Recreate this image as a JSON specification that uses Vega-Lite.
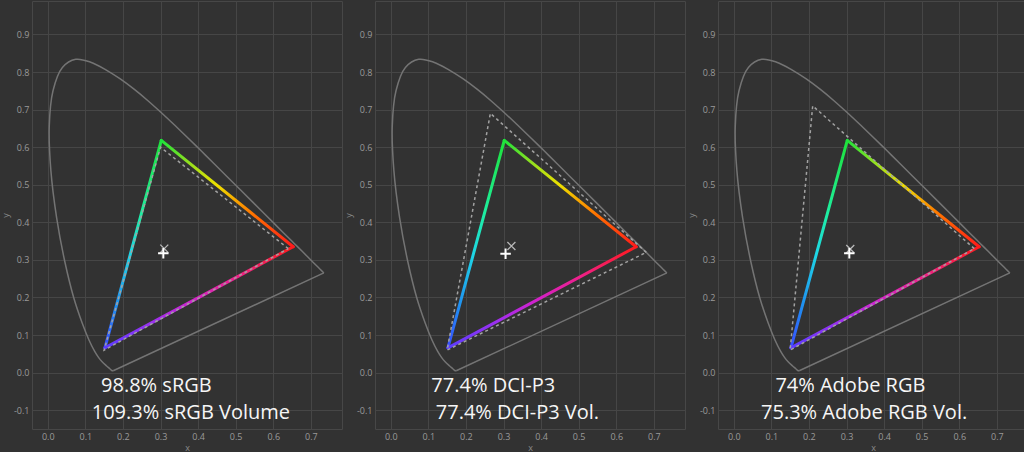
{
  "$schema": "https://vega.github.io/schema/vega-lite/v6.json",
  "padding": 0,
  "background": "#323232",
  "spacing": 0,
  "datasets": {
    "locus": [
      {"i": 0, "nm": 380, "x": 0.1741, "y": 0.0050},
      {"i": 1, "nm": 410, "x": 0.1727, "y": 0.0048},
      {"i": 2, "nm": 420, "x": 0.1714, "y": 0.0051},
      {"i": 3, "nm": 430, "x": 0.1689, "y": 0.0069},
      {"i": 4, "nm": 440, "x": 0.1644, "y": 0.0109},
      {"i": 5, "nm": 450, "x": 0.1566, "y": 0.0177},
      {"i": 6, "nm": 460, "x": 0.1440, "y": 0.0297},
      {"i": 7, "nm": 465, "x": 0.1355, "y": 0.0399},
      {"i": 8, "nm": 470, "x": 0.1241, "y": 0.0578},
      {"i": 9, "nm": 475, "x": 0.1096, "y": 0.0868},
      {"i": 10, "nm": 480, "x": 0.0913, "y": 0.1327},
      {"i": 11, "nm": 485, "x": 0.0687, "y": 0.2007},
      {"i": 12, "nm": 490, "x": 0.0454, "y": 0.2950},
      {"i": 13, "nm": 495, "x": 0.0235, "y": 0.4127},
      {"i": 14, "nm": 500, "x": 0.0082, "y": 0.5384},
      {"i": 15, "nm": 505, "x": 0.0039, "y": 0.6548},
      {"i": 16, "nm": 510, "x": 0.0139, "y": 0.7502},
      {"i": 17, "nm": 515, "x": 0.0389, "y": 0.8120},
      {"i": 18, "nm": 520, "x": 0.0743, "y": 0.8338},
      {"i": 19, "nm": 525, "x": 0.1142, "y": 0.8262},
      {"i": 20, "nm": 530, "x": 0.1547, "y": 0.8059},
      {"i": 21, "nm": 535, "x": 0.1929, "y": 0.7816},
      {"i": 22, "nm": 540, "x": 0.2296, "y": 0.7543},
      {"i": 23, "nm": 545, "x": 0.2658, "y": 0.7243},
      {"i": 24, "nm": 550, "x": 0.3016, "y": 0.6923},
      {"i": 25, "nm": 555, "x": 0.3373, "y": 0.6589},
      {"i": 26, "nm": 560, "x": 0.3731, "y": 0.6245},
      {"i": 27, "nm": 565, "x": 0.4087, "y": 0.5896},
      {"i": 28, "nm": 570, "x": 0.4441, "y": 0.5547},
      {"i": 29, "nm": 575, "x": 0.4788, "y": 0.5202},
      {"i": 30, "nm": 580, "x": 0.5125, "y": 0.4866},
      {"i": 31, "nm": 585, "x": 0.5448, "y": 0.4544},
      {"i": 32, "nm": 590, "x": 0.5752, "y": 0.4242},
      {"i": 33, "nm": 595, "x": 0.6029, "y": 0.3965},
      {"i": 34, "nm": 600, "x": 0.6270, "y": 0.3725},
      {"i": 35, "nm": 605, "x": 0.6482, "y": 0.3514},
      {"i": 36, "nm": 610, "x": 0.6658, "y": 0.3340},
      {"i": 37, "nm": 620, "x": 0.6915, "y": 0.3083},
      {"i": 38, "nm": 630, "x": 0.7079, "y": 0.2920},
      {"i": 39, "nm": 640, "x": 0.7190, "y": 0.2809},
      {"i": 40, "nm": 650, "x": 0.7260, "y": 0.2740},
      {"i": 41, "nm": 660, "x": 0.7300, "y": 0.2700},
      {"i": 42, "nm": 680, "x": 0.7334, "y": 0.2666},
      {"i": 43, "nm": 700, "x": 0.7347, "y": 0.2653}
    ],
    "purple": [
      {"x": 0.7347, "y": 0.2653, "x2": 0.1741, "y2": 0.0050}
    ],
    "gamut": [
      {"edge": "RG", "x": 0.653, "y": 0.335, "x2": 0.302, "y2": 0.618},
      {"edge": "GB", "x": 0.302, "y": 0.618, "x2": 0.152, "y2": 0.066},
      {"edge": "BR", "x": 0.152, "y": 0.066, "x2": 0.653, "y2": 0.335}
    ],
    "reference": [
      {"panel": "sRGB", "i": 0, "x": 0.64, "y": 0.33},
      {"panel": "sRGB", "i": 1, "x": 0.30, "y": 0.60},
      {"panel": "sRGB", "i": 2, "x": 0.15, "y": 0.06},
      {"panel": "sRGB", "i": 3, "x": 0.64, "y": 0.33},
      {"panel": "P3", "i": 0, "x": 0.68, "y": 0.32},
      {"panel": "P3", "i": 1, "x": 0.265, "y": 0.69},
      {"panel": "P3", "i": 2, "x": 0.15, "y": 0.06},
      {"panel": "P3", "i": 3, "x": 0.68, "y": 0.32},
      {"panel": "Adobe", "i": 0, "x": 0.64, "y": 0.33},
      {"panel": "Adobe", "i": 1, "x": 0.21, "y": 0.71},
      {"panel": "Adobe", "i": 2, "x": 0.15, "y": 0.06},
      {"panel": "Adobe", "i": 3, "x": 0.64, "y": 0.33}
    ],
    "whites": [
      {"panel": "sRGB", "kind": "target", "x": 0.310, "y": 0.330},
      {"panel": "sRGB", "kind": "measured", "x": 0.3075, "y": 0.3175},
      {"panel": "P3", "kind": "target", "x": 0.321, "y": 0.337},
      {"panel": "P3", "kind": "measured", "x": 0.3055, "y": 0.3165},
      {"panel": "Adobe", "kind": "target", "x": 0.310, "y": 0.329},
      {"panel": "Adobe", "kind": "measured", "x": 0.3075, "y": 0.3175}
    ],
    "labels": [
      {"panel": "sRGB", "text": "98.8% sRGB", "x": 0.1418, "y": -0.0505},
      {"panel": "sRGB", "text": "109.3% sRGB Volume", "x": 0.117, "y": -0.124},
      {"panel": "P3", "text": "77.4% DCI-P3", "x": 0.108, "y": -0.0505},
      {"panel": "P3", "text": "77.4% DCI-P3 Vol.", "x": 0.1197, "y": -0.124},
      {"panel": "Adobe", "text": "74% Adobe RGB", "x": 0.1107, "y": -0.0505},
      {"panel": "Adobe", "text": "75.3% Adobe RGB Vol.", "x": 0.0726, "y": -0.124}
    ]
  },
  "hconcat": [
    {
      "width": 310,
      "height": 428,
      "encoding": {
        "x": {"field": "x", "type": "quantitative", "scale": {"domain": [-0.042, 0.783], "nice": false, "zero": false}, "axis": {"values": [0, 0.1, 0.2, 0.3, 0.4, 0.5, 0.6, 0.7], "title": "x", "labelExpr": "replace(format(datum.value, '.1f'), '−', '-')"}},
        "y": {"field": "y", "type": "quantitative", "scale": {"domain": [-0.15, 0.989], "nice": false, "zero": false}, "axis": {"values": [-0.1, 0, 0.1, 0.2, 0.3, 0.4, 0.5, 0.6, 0.7, 0.8, 0.9], "title": "y", "labelExpr": "replace(format(datum.value, '.1f'), '−', '-')"}}
      },
      "layer": [
        {"data": {"name": "locus"}, "mark": {"type": "line", "stroke": "#747474", "strokeWidth": 1.5, "interpolate": "catmull-rom"}, "encoding": {"order": {"field": "i", "type": "quantitative"}}},
        {"data": {"name": "purple"}, "mark": {"type": "rule", "stroke": "#747474", "strokeWidth": 1.5}, "encoding": {"x2": {"field": "x2"}, "y2": {"field": "y2"}}},
        {"data": {"name": "gamut"}, "transform": [{"filter": "datum.edge == 'RG'"}], "mark": {"type": "rule", "strokeWidth": 3, "strokeCap": "round", "stroke": {"gradient": "linear", "x1": 1, "y1": 1, "x2": 0, "y2": 0, "stops": [{"offset": 0, "color": "#ff1a1a"}, {"offset": 0.3, "color": "#ff7000"}, {"offset": 0.58, "color": "#eee000"}, {"offset": 0.8, "color": "#8ee020"}, {"offset": 1, "color": "#1ee23a"}]}}, "encoding": {"x2": {"field": "x2"}, "y2": {"field": "y2"}}},
        {"data": {"name": "gamut"}, "transform": [{"filter": "datum.edge == 'GB'"}], "mark": {"type": "rule", "strokeWidth": 3, "strokeCap": "round", "stroke": {"gradient": "linear", "x1": 1, "y1": 0, "x2": 0, "y2": 1, "stops": [{"offset": 0, "color": "#1ee23a"}, {"offset": 0.35, "color": "#1eeea0"}, {"offset": 0.55, "color": "#1ed6e6"}, {"offset": 0.8, "color": "#208ef0"}, {"offset": 1, "color": "#3a4cff"}]}}, "encoding": {"x2": {"field": "x2"}, "y2": {"field": "y2"}}},
        {"data": {"name": "gamut"}, "transform": [{"filter": "datum.edge == 'BR'"}], "mark": {"type": "rule", "strokeWidth": 3, "strokeCap": "round", "stroke": {"gradient": "linear", "x1": 0, "y1": 1, "x2": 1, "y2": 0, "stops": [{"offset": 0, "color": "#5a3cff"}, {"offset": 0.25, "color": "#9a30f0"}, {"offset": 0.45, "color": "#cf22d0"}, {"offset": 0.7, "color": "#ef208a"}, {"offset": 1, "color": "#ff1a1a"}]}}, "encoding": {"x2": {"field": "x2"}, "y2": {"field": "y2"}}},
        {"data": {"name": "reference"}, "transform": [{"filter": "datum.panel == 'sRGB'"}], "mark": {"type": "line", "stroke": "#a2a2a2", "strokeWidth": 1.5, "strokeDash": [3, 3]}, "encoding": {"order": {"field": "i", "type": "quantitative"}}},
        {"data": {"name": "whites"}, "transform": [{"filter": "datum.panel == 'sRGB' && datum.kind == 'target'"}], "mark": {"type": "point", "shape": "M-1,-1L1,1M-1,1L1,-1", "size": 64, "filled": false, "stroke": "#b8b8b8", "strokeWidth": 1.3, "opacity": 1}},
        {"data": {"name": "whites"}, "transform": [{"filter": "datum.panel == 'sRGB' && datum.kind == 'measured'"}], "mark": {"type": "point", "shape": "M-1,0L1,0M0,-1L0,1", "size": 110, "filled": false, "stroke": "#ffffff", "strokeWidth": 2, "opacity": 1}},
        {"data": {"name": "labels"}, "transform": [{"filter": "datum.panel == 'sRGB'"}], "mark": {"type": "text", "align": "left", "baseline": "alphabetic", "font": "Open Sans", "fontSize": 20, "color": "#f6f6f6"}, "encoding": {"text": {"field": "text"}}}
      ]
    },
    {
      "width": 310,
      "height": 428,
      "encoding": {
        "x": {"field": "x", "type": "quantitative", "scale": {"domain": [-0.042, 0.783], "nice": false, "zero": false}, "axis": {"values": [0, 0.1, 0.2, 0.3, 0.4, 0.5, 0.6, 0.7], "title": "x", "labelExpr": "replace(format(datum.value, '.1f'), '−', '-')"}},
        "y": {"field": "y", "type": "quantitative", "scale": {"domain": [-0.15, 0.989], "nice": false, "zero": false}, "axis": {"values": [-0.1, 0, 0.1, 0.2, 0.3, 0.4, 0.5, 0.6, 0.7, 0.8, 0.9], "title": "y", "labelExpr": "replace(format(datum.value, '.1f'), '−', '-')"}}
      },
      "layer": [
        {"data": {"name": "locus"}, "mark": {"type": "line", "stroke": "#747474", "strokeWidth": 1.5, "interpolate": "catmull-rom"}, "encoding": {"order": {"field": "i", "type": "quantitative"}}},
        {"data": {"name": "purple"}, "mark": {"type": "rule", "stroke": "#747474", "strokeWidth": 1.5}, "encoding": {"x2": {"field": "x2"}, "y2": {"field": "y2"}}},
        {"data": {"name": "gamut"}, "transform": [{"filter": "datum.edge == 'RG'"}], "mark": {"type": "rule", "strokeWidth": 3, "strokeCap": "round", "stroke": {"gradient": "linear", "x1": 1, "y1": 1, "x2": 0, "y2": 0, "stops": [{"offset": 0, "color": "#ff1a1a"}, {"offset": 0.3, "color": "#ff7000"}, {"offset": 0.58, "color": "#eee000"}, {"offset": 0.8, "color": "#8ee020"}, {"offset": 1, "color": "#1ee23a"}]}}, "encoding": {"x2": {"field": "x2"}, "y2": {"field": "y2"}}},
        {"data": {"name": "gamut"}, "transform": [{"filter": "datum.edge == 'GB'"}], "mark": {"type": "rule", "strokeWidth": 3, "strokeCap": "round", "stroke": {"gradient": "linear", "x1": 1, "y1": 0, "x2": 0, "y2": 1, "stops": [{"offset": 0, "color": "#1ee23a"}, {"offset": 0.35, "color": "#1eeea0"}, {"offset": 0.55, "color": "#1ed6e6"}, {"offset": 0.8, "color": "#208ef0"}, {"offset": 1, "color": "#3a4cff"}]}}, "encoding": {"x2": {"field": "x2"}, "y2": {"field": "y2"}}},
        {"data": {"name": "gamut"}, "transform": [{"filter": "datum.edge == 'BR'"}], "mark": {"type": "rule", "strokeWidth": 3, "strokeCap": "round", "stroke": {"gradient": "linear", "x1": 0, "y1": 1, "x2": 1, "y2": 0, "stops": [{"offset": 0, "color": "#5a3cff"}, {"offset": 0.25, "color": "#9a30f0"}, {"offset": 0.45, "color": "#cf22d0"}, {"offset": 0.7, "color": "#ef208a"}, {"offset": 1, "color": "#ff1a1a"}]}}, "encoding": {"x2": {"field": "x2"}, "y2": {"field": "y2"}}},
        {"data": {"name": "reference"}, "transform": [{"filter": "datum.panel == 'P3'"}], "mark": {"type": "line", "stroke": "#a2a2a2", "strokeWidth": 1.5, "strokeDash": [3, 3]}, "encoding": {"order": {"field": "i", "type": "quantitative"}}},
        {"data": {"name": "whites"}, "transform": [{"filter": "datum.panel == 'P3' && datum.kind == 'target'"}], "mark": {"type": "point", "shape": "M-1,-1L1,1M-1,1L1,-1", "size": 64, "filled": false, "stroke": "#b8b8b8", "strokeWidth": 1.3, "opacity": 1}},
        {"data": {"name": "whites"}, "transform": [{"filter": "datum.panel == 'P3' && datum.kind == 'measured'"}], "mark": {"type": "point", "shape": "M-1,0L1,0M0,-1L0,1", "size": 110, "filled": false, "stroke": "#ffffff", "strokeWidth": 2, "opacity": 1}},
        {"data": {"name": "labels"}, "transform": [{"filter": "datum.panel == 'P3'"}], "mark": {"type": "text", "align": "left", "baseline": "alphabetic", "font": "Open Sans", "fontSize": 20, "color": "#f6f6f6"}, "encoding": {"text": {"field": "text"}}}
      ]
    },
    {
      "width": 310,
      "height": 428,
      "encoding": {
        "x": {"field": "x", "type": "quantitative", "scale": {"domain": [-0.042, 0.783], "nice": false, "zero": false}, "axis": {"values": [0, 0.1, 0.2, 0.3, 0.4, 0.5, 0.6, 0.7], "title": "x", "labelExpr": "replace(format(datum.value, '.1f'), '−', '-')"}},
        "y": {"field": "y", "type": "quantitative", "scale": {"domain": [-0.15, 0.989], "nice": false, "zero": false}, "axis": {"values": [-0.1, 0, 0.1, 0.2, 0.3, 0.4, 0.5, 0.6, 0.7, 0.8, 0.9], "title": "y", "labelExpr": "replace(format(datum.value, '.1f'), '−', '-')"}}
      },
      "layer": [
        {"data": {"name": "locus"}, "mark": {"type": "line", "stroke": "#747474", "strokeWidth": 1.5, "interpolate": "catmull-rom"}, "encoding": {"order": {"field": "i", "type": "quantitative"}}},
        {"data": {"name": "purple"}, "mark": {"type": "rule", "stroke": "#747474", "strokeWidth": 1.5}, "encoding": {"x2": {"field": "x2"}, "y2": {"field": "y2"}}},
        {"data": {"name": "gamut"}, "transform": [{"filter": "datum.edge == 'RG'"}], "mark": {"type": "rule", "strokeWidth": 3, "strokeCap": "round", "stroke": {"gradient": "linear", "x1": 1, "y1": 1, "x2": 0, "y2": 0, "stops": [{"offset": 0, "color": "#ff1a1a"}, {"offset": 0.3, "color": "#ff7000"}, {"offset": 0.58, "color": "#eee000"}, {"offset": 0.8, "color": "#8ee020"}, {"offset": 1, "color": "#1ee23a"}]}}, "encoding": {"x2": {"field": "x2"}, "y2": {"field": "y2"}}},
        {"data": {"name": "gamut"}, "transform": [{"filter": "datum.edge == 'GB'"}], "mark": {"type": "rule", "strokeWidth": 3, "strokeCap": "round", "stroke": {"gradient": "linear", "x1": 1, "y1": 0, "x2": 0, "y2": 1, "stops": [{"offset": 0, "color": "#1ee23a"}, {"offset": 0.35, "color": "#1eeea0"}, {"offset": 0.55, "color": "#1ed6e6"}, {"offset": 0.8, "color": "#208ef0"}, {"offset": 1, "color": "#3a4cff"}]}}, "encoding": {"x2": {"field": "x2"}, "y2": {"field": "y2"}}},
        {"data": {"name": "gamut"}, "transform": [{"filter": "datum.edge == 'BR'"}], "mark": {"type": "rule", "strokeWidth": 3, "strokeCap": "round", "stroke": {"gradient": "linear", "x1": 0, "y1": 1, "x2": 1, "y2": 0, "stops": [{"offset": 0, "color": "#5a3cff"}, {"offset": 0.25, "color": "#9a30f0"}, {"offset": 0.45, "color": "#cf22d0"}, {"offset": 0.7, "color": "#ef208a"}, {"offset": 1, "color": "#ff1a1a"}]}}, "encoding": {"x2": {"field": "x2"}, "y2": {"field": "y2"}}},
        {"data": {"name": "reference"}, "transform": [{"filter": "datum.panel == 'Adobe'"}], "mark": {"type": "line", "stroke": "#a2a2a2", "strokeWidth": 1.5, "strokeDash": [3, 3]}, "encoding": {"order": {"field": "i", "type": "quantitative"}}},
        {"data": {"name": "whites"}, "transform": [{"filter": "datum.panel == 'Adobe' && datum.kind == 'target'"}], "mark": {"type": "point", "shape": "M-1,-1L1,1M-1,1L1,-1", "size": 64, "filled": false, "stroke": "#b8b8b8", "strokeWidth": 1.3, "opacity": 1}},
        {"data": {"name": "whites"}, "transform": [{"filter": "datum.panel == 'Adobe' && datum.kind == 'measured'"}], "mark": {"type": "point", "shape": "M-1,0L1,0M0,-1L0,1", "size": 110, "filled": false, "stroke": "#ffffff", "strokeWidth": 2, "opacity": 1}},
        {"data": {"name": "labels"}, "transform": [{"filter": "datum.panel == 'Adobe'"}], "mark": {"type": "text", "align": "left", "baseline": "alphabetic", "font": "Open Sans", "fontSize": 20, "color": "#f6f6f6"}, "encoding": {"text": {"field": "text"}}}
      ]
    }
  ],
  "config": {
    "view": {"stroke": "#474747", "fill": "#323232"},
    "font": "Open Sans",
    "axis": {
      "grid": true,
      "gridColor": "#464646",
      "gridWidth": 1,
      "ticks": false,
      "domain": false,
      "labelColor": "#9a9a9a",
      "labelFont": "Open Sans",
      "labelFontSize": 9,
      "labelFlush": false,
      "labelOverlap": false,
      "titleColor": "#8a8a8a",
      "titleFont": "Open Sans",
      "titleFontSize": 9,
      "titleFontWeight": "normal"
    },
    "axisX": {"labelPadding": 3, "minExtent": 13, "maxExtent": 13, "titlePadding": 1},
    "axisY": {"labelPadding": 3, "minExtent": 21, "maxExtent": 21, "titlePadding": 1}
  }
}
